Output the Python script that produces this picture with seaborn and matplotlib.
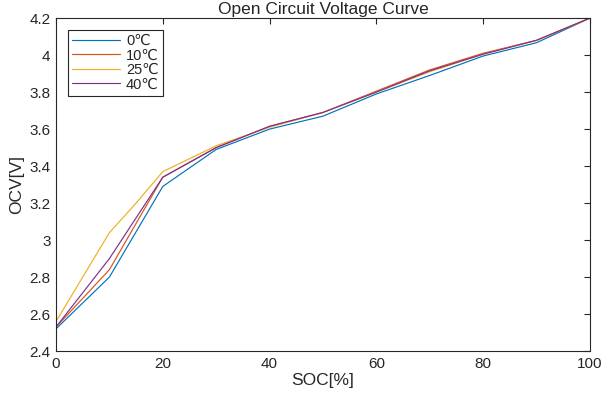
import matplotlib
matplotlib.use("Agg")
import matplotlib.pyplot as plt
import seaborn as sns
import pandas as pd
from matplotlib.ticker import FuncFormatter

soc = [0, 10, 20, 30, 40, 50, 60, 70, 80, 90, 100]
soc_25 = [0, 10, 15, 20, 30, 40, 50, 60, 70, 80, 90, 100]
ocv_0 = [2.52, 2.80, 3.29, 3.49, 3.60, 3.67, 3.79, 3.89, 3.995, 4.067, 4.20]
ocv_10 = [2.53, 2.84, 3.34, 3.50, 3.615, 3.69, 3.805, 3.92, 4.01, 4.08, 4.20]
ocv_25 = [2.56, 3.04, 3.20, 3.37, 3.51, 3.61, 3.69, 3.80, 3.91, 4.005, 4.08, 4.20]
ocv_40 = [2.53, 2.90, 3.34, 3.50, 3.615, 3.69, 3.80, 3.915, 4.005, 4.08, 4.20]
labels = ["0℃", "10℃", "25℃", "40℃"]
colors = ["#0072BD", "#D95319", "#EDB120", "#7E2F8E"]

frames = []
for lab, xs, ys in zip(labels, [soc, soc, soc_25, soc], [ocv_0, ocv_10, ocv_25, ocv_40]):
    frames.append(pd.DataFrame({"SOC": xs, "OCV": ys, "T": lab}))
df = pd.concat(frames, ignore_index=True)

sns.set_style("white")
plt.rcParams["font.family"] = ["Liberation Sans", "DejaVu Sans"]

fig = plt.figure(figsize=(6.05, 3.94), dpi=100)
ax = fig.add_axes([0.0926, 0.109, 0.8824, 0.845])
sns.lineplot(data=df, x="SOC", y="OCV", hue="T", hue_order=labels,
             palette=colors, linewidth=0.85, ax=ax, sort=False, estimator=None)

ax.set_xlim(0, 100)
ax.set_ylim(2.4, 4.2)
ax.set_xticks([0, 20, 40, 60, 80, 100])
ax.set_yticks([2.4, 2.6, 2.8, 3.0, 3.2, 3.4, 3.6, 3.8, 4.0, 4.2])
ax.yaxis.set_major_formatter(FuncFormatter(lambda v, p: f"{v:g}"))
ax.tick_params(direction="in", length=4, width=0.8, colors="#262626",
               labelsize=11, top=True, right=True, pad=4)
for s in ax.spines.values():
    s.set_color("#262626")
    s.set_linewidth(0.8)
ax.set_xlabel("SOC[%]", fontsize=12.5, color="#262626", labelpad=2)
ax.set_ylabel("OCV[V]", fontsize=12.5, color="#262626", labelpad=4)
ax.set_title("Open Circuit Voltage Curve", fontsize=12.5, color="#262626", pad=3)

leg = ax.legend(loc="upper left", fontsize=10.5, frameon=True, fancybox=False,
                framealpha=1, edgecolor="#262626", handlelength=3.3,
                labelspacing=0.03, borderpad=0.3, handletextpad=0.4,
                borderaxespad=0.8, title=None)
leg.get_frame().set_linewidth(0.8)

fig.savefig("out.png", dpi=100)
